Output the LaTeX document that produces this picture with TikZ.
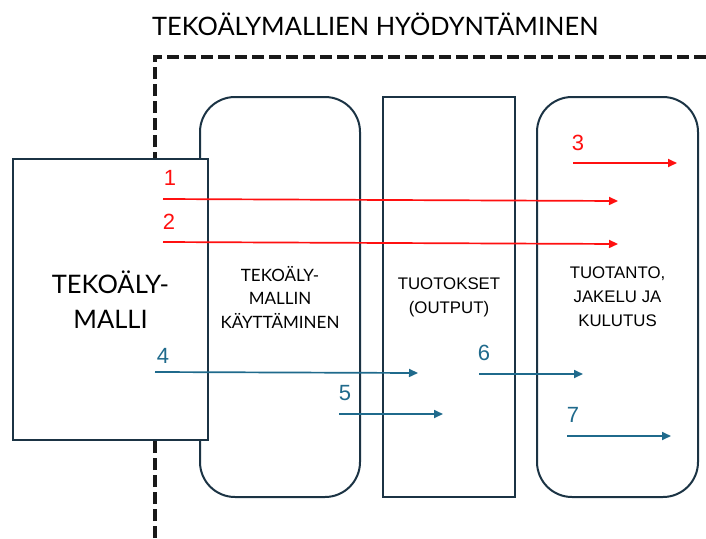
\documentclass[tikz,border=0pt]{standalone}
\usepackage{fontspec}
\usetikzlibrary{arrows.meta}
\newfontfamily\latofont{Lato}
\newfontfamily\arialfont{Liberation Sans}
\definecolor{boxc}{HTML}{1B3344}
\definecolor{arrred}{HTML}{FF1010}
\definecolor{arrblue}{HTML}{1F6A8C}
\tikzset{
  boxline/.style={draw=boxc, line width=2pt, fill=white, align=center, inner sep=0pt},
  redarr/.style={draw=arrred, line width=1.7pt, -{Triangle[length=9pt,width=8pt]}},
  bluearr/.style={draw=arrblue, line width=1.7pt, -{Triangle[length=9pt,width=8pt]}},
  rednum/.style={text=arrred, font=\arialfont\fontsize{22}{22}\selectfont, inner sep=0pt},
  bluenum/.style={text=arrblue, font=\arialfont\fontsize{22}{22}\selectfont, inner sep=0pt},
  smalltext/.style={font=\latofont\fontsize{17}{23.5}\selectfont},
  arialtext/.style={font=\arialfont\fontsize{16.8}{23.8}\selectfont}
}
\begin{document}
\begin{tikzpicture}[x=1pt,y=-1pt]
\useasboundingbox (0,0) rectangle (706,538);
% title
\node[anchor=base west, inner sep=0pt, font=\latofont\fontsize{25.4}{25}\selectfont] (title) at (152,35) {TEKOÄLYMALLIEN HYÖDYNTÄMINEN};
% dashed frame
\coordinate (dA) at (155,538);
\coordinate (dB) at (155,57);
\coordinate (dC) at (706,57);
\draw[line width=3.5pt, dash pattern=on 12pt off 5pt, black!90] (dA) -- (dB) -- (dC);
% boxes
\node[boxline, rounded corners=35pt, minimum width=160pt, minimum height=400pt, smalltext] (use) at (280,297) {TEKOÄLY-\\MALLIN\\KÄYTTÄMINEN};
\node[boxline, minimum width=132pt, minimum height=400pt, arialtext] (out) at (449,297) {TUOTOKSET\\(OUTPUT)};
\node[boxline, rounded corners=35pt, minimum width=161pt, minimum height=400pt, arialtext] (prod) at (617.5,297) {TUOTANTO,\\JAKELU JA\\KULUTUS};
\node[boxline, minimum width=195pt, minimum height=281pt, font=\latofont\fontsize{25.5}{35}\selectfont] (model) at (110.5,299.5) {TEKOÄLY-\\MALLI};
% arrow end points
\coordinate (s1) at (163,199); \coordinate (e1) at (618,201);
\coordinate (s2) at (163,242); \coordinate (e2) at (618,244);
\coordinate (s3) at (573,163); \coordinate (e3) at (677,163);
\coordinate (s4) at (155,372); \coordinate (e4) at (418,373);
\coordinate (s5) at (339,414); \coordinate (e5) at (443,414);
\coordinate (s6) at (479,374); \coordinate (e6) at (583,374);
\coordinate (s7) at (567,436); \coordinate (e7) at (671,436);
\draw[redarr] (s1) -- (e1);
\draw[redarr] (s2) -- (e2);
\draw[redarr] (s3) -- (e3);
\draw[bluearr] (s4) -- (e4);
\draw[bluearr] (s5) -- (e5);
\draw[bluearr] (s6) -- (e6);
\draw[bluearr] (s7) -- (e7);
% labels
\node[rednum] (n1) at (170,178) {1};
\node[rednum] (n2) at (169,222) {2};
\node[rednum] (n3) at (578,143) {3};
\node[bluenum] (n4) at (163,356) {4};
\node[bluenum] (n5) at (345,393) {5};
\node[bluenum] (n6) at (484,353) {6};
\node[bluenum] (n7) at (573,415) {7};
\end{tikzpicture}
\end{document}
